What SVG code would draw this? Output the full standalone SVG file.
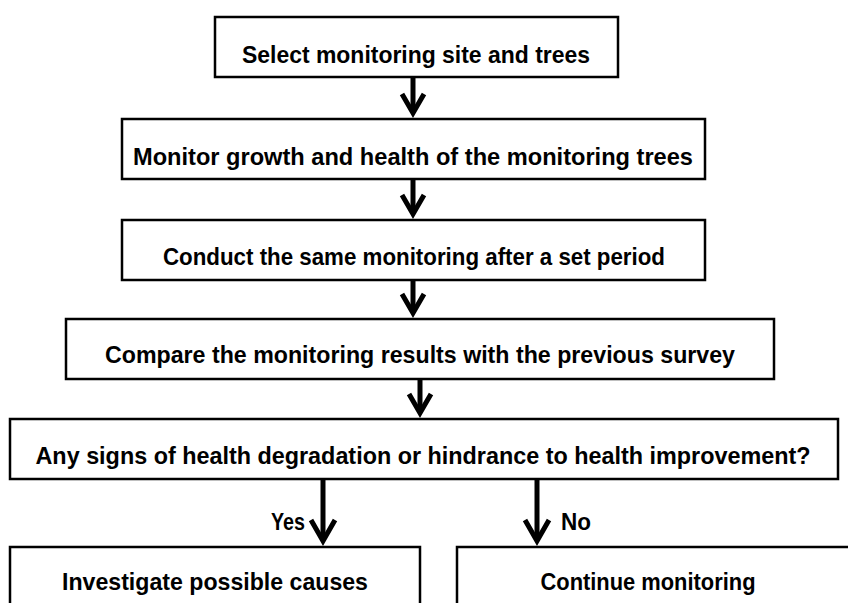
<svg xmlns="http://www.w3.org/2000/svg" width="848" height="603" viewBox="0 0 848 603">
<style>
.box{fill:#fff;stroke:#000;stroke-width:2.5}
.t{font-family:"Liberation Sans",Arial,sans-serif;font-weight:bold;font-size:24px;text-anchor:middle;fill:#000}
.shaft{stroke:#000;stroke-width:5;fill:none}
.head{stroke:#000;stroke-width:5;fill:none;stroke-linejoin:miter;stroke-miterlimit:10}
</style>
<rect width="848" height="603" fill="#fff"/>
<g id="n1"><rect class="box" x="215" y="17" width="403" height="60"/><text class="t" x="416" y="63" textLength="348" lengthAdjust="spacingAndGlyphs">Select monitoring site and trees</text></g>
<g id="n2"><rect class="box" x="122" y="119" width="583" height="60"/><text class="t" x="413" y="165" textLength="560" lengthAdjust="spacingAndGlyphs">Monitor growth and health of the monitoring trees</text></g>
<g id="n3"><rect class="box" x="122" y="220" width="583" height="60"/><text class="t" x="414" y="265" textLength="502" lengthAdjust="spacingAndGlyphs">Conduct the same monitoring after a set period</text></g>
<g id="n4"><rect class="box" x="66" y="319" width="708" height="60"/><text class="t" x="420" y="363" textLength="630" lengthAdjust="spacingAndGlyphs">Compare the monitoring results with the previous survey</text></g>
<g id="n5"><rect class="box" x="10" y="419" width="828" height="60"/><text class="t" x="423" y="464" textLength="775" lengthAdjust="spacingAndGlyphs">Any signs of health degradation or hindrance to health improvement?</text></g>
<g id="n6"><rect class="box" x="10" y="547" width="410" height="90"/><text class="t" x="215" y="590" textLength="306" lengthAdjust="spacingAndGlyphs">Investigate possible causes</text></g>
<g id="n7"><rect class="box" x="457" y="547" width="400" height="90"/><text class="t" x="648" y="590" textLength="215" lengthAdjust="spacingAndGlyphs">Continue monitoring</text></g>
<g id="connectors">
<line class="shaft" x1="413" y1="78" x2="413" y2="112"/><polyline class="head" points="402,94 413,113 424,94"/>
<line class="shaft" x1="413" y1="180" x2="413" y2="213"/><polyline class="head" points="402,195 413,214 424,195"/>
<line class="shaft" x1="413" y1="281" x2="413" y2="312"/><polyline class="head" points="402,294 413,313 424,294"/>
<line class="shaft" x1="420" y1="380" x2="420" y2="412"/><polyline class="head" points="409,394 420,413 431,394"/>
<line class="shaft" x1="323" y1="480" x2="323" y2="540"/><polyline class="head" points="311,520 323,541 335,520"/>
<line class="shaft" x1="537" y1="480" x2="537" y2="540"/><polyline class="head" points="525,520 537,541 549,520"/>
<text class="t" x="288" y="530" textLength="34" lengthAdjust="spacingAndGlyphs">Yes</text>
<text class="t" x="576" y="530" textLength="30" lengthAdjust="spacingAndGlyphs">No</text>
</g>
</svg>
